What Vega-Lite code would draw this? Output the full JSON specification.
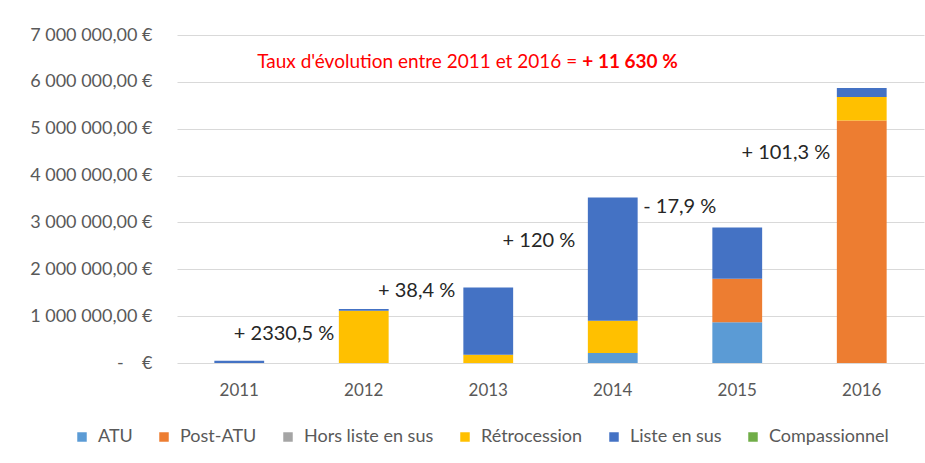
{
  "$schema": "https://vega.github.io/schema/vega-lite/v6.json",
  "width": 747,
  "height": 328,
  "autosize": "none",
  "padding": {"left": 177, "top": 35, "right": 1, "bottom": 100},
  "background": "white",
  "config": {
    "view": {"stroke": null},
    "font": "Lato",
    "axis": {"labelFont": "Lato", "labelColor": "#595959", "labelFontSize": 17}
  },
  "datasets": {
    "bars": [
      {"year": "2011", "cat": "Liste en sus", "k": 5, "value": 48000},
      {"year": "2012", "cat": "Rétrocession", "k": 4, "value": 1116000},
      {"year": "2012", "cat": "Liste en sus", "k": 5, "value": 36000},
      {"year": "2013", "cat": "Rétrocession", "k": 4, "value": 177000},
      {"year": "2013", "cat": "Liste en sus", "k": 5, "value": 1436000},
      {"year": "2014", "cat": "ATU", "k": 1, "value": 213000},
      {"year": "2014", "cat": "Rétrocession", "k": 4, "value": 690000},
      {"year": "2014", "cat": "Liste en sus", "k": 5, "value": 2631000},
      {"year": "2015", "cat": "ATU", "k": 1, "value": 867000},
      {"year": "2015", "cat": "Post-ATU", "k": 2, "value": 932000},
      {"year": "2015", "cat": "Liste en sus", "k": 5, "value": 1095000},
      {"year": "2016", "cat": "Post-ATU", "k": 2, "value": 5177000},
      {"year": "2016", "cat": "Rétrocession", "k": 4, "value": 499000},
      {"year": "2016", "cat": "Liste en sus", "k": 5, "value": 193000}
    ],
    "p1": [{"year": "2012", "value": 625000, "label": "+ 2330,5 %"}],
    "p2": [{"year": "2013", "value": 1528000, "label": "+ 38,4 %"}],
    "p3": [{"year": "2014", "value": 2595000, "label": "+ 120 %"}],
    "p4": [{"year": "2014", "value": 3335000, "label": "- 17,9 %"}],
    "p5": [{"year": "2016", "value": 4488000, "label": "+ 101,3 %"}],
    "titleNormal": [
      {"year": "2014", "value": 6430000, "label": "Taux d'évolution entre 2011 et 2016 ="}
    ],
    "titleBold": [
      {"year": "2014", "value": 6430000, "label": "+ 11 630 %"}
    ]
  },
  "layer": [
    {
      "data": {"name": "bars"},
      "mark": {"type": "bar"},
      "encoding": {
        "x": {
          "field": "year",
          "type": "ordinal",
          "scale": {"paddingInner": 0.6, "paddingOuter": 0.3},
          "axis": {"title": null, "domain": false, "ticks": false, "labelAngle": 0, "labelPadding": 19}
        },
        "y": {
          "field": "value",
          "type": "quantitative",
          "stack": "zero",
          "scale": {"domain": [0, 7000000]},
          "axis": {
            "title": null,
            "domain": false,
            "ticks": false,
            "values": [0, 1000000, 2000000, 3000000, 4000000, 5000000, 6000000, 7000000],
            "labelPadding": 25,
            "labelFontSize": 18,
            "gridColor": "#D9D9D9",
            "gridWidth": 1,
            "labelExpr": "datum.value == 0 ? '-\u00a0\u00a0\u00a0\u00a0€' : format(datum.value / 1000000, '.0f') + ' 000 000,00 €'"
          }
        },
        "color": {
          "field": "cat",
          "type": "nominal",
          "scale": {
            "domain": ["ATU", "Post-ATU", "Hors liste en sus", "Rétrocession", "Liste en sus", "Compassionnel"],
            "range": ["#5B9BD5", "#ED7D31", "#A5A5A5", "#FFC000", "#4472C4", "#70AD47"]
          },
          "legend": {
            "title": null,
            "orient": "none",
            "legendX": -104,
            "legendY": 393,
            "direction": "horizontal",
            "symbolType": "square",
            "symbolSize": 90,
            "symbolStrokeWidth": 0,
            "labelFont": "Lato",
            "labelFontSize": 18,
            "labelColor": "#595959",
            "labelOffset": 7,
            "columnPadding": 22
          }
        },
        "order": {"field": "k", "type": "quantitative"}
      }
    },
    {
      "data": {"name": "p1"},
      "mark": {"type": "text", "align": "right", "baseline": "middle", "fontSize": 20, "color": "#262626", "font": "Lato"},
      "encoding": {
        "x": {"field": "year", "type": "ordinal", "bandPosition": -0.092},
        "y": {"field": "value", "type": "quantitative"},
        "text": {"field": "label"}
      }
    },
    {
      "data": {"name": "p2"},
      "mark": {"type": "text", "align": "right", "baseline": "middle", "fontSize": 20, "color": "#262626", "font": "Lato"},
      "encoding": {
        "x": {"field": "year", "type": "ordinal", "bandPosition": -0.163},
        "y": {"field": "value", "type": "quantitative"},
        "text": {"field": "label"}
      }
    },
    {
      "data": {"name": "p3"},
      "mark": {"type": "text", "align": "right", "baseline": "middle", "fontSize": 20, "color": "#262626", "font": "Lato"},
      "encoding": {
        "x": {"field": "year", "type": "ordinal", "bandPosition": -0.253},
        "y": {"field": "value", "type": "quantitative"},
        "text": {"field": "label"}
      }
    },
    {
      "data": {"name": "p4"},
      "mark": {"type": "text", "align": "left", "baseline": "middle", "fontSize": 20, "color": "#262626", "font": "Lato"},
      "encoding": {
        "x": {"field": "year", "type": "ordinal", "bandPosition": 1.112},
        "y": {"field": "value", "type": "quantitative"},
        "text": {"field": "label"}
      }
    },
    {
      "data": {"name": "p5"},
      "mark": {"type": "text", "align": "right", "baseline": "middle", "fontSize": 20, "color": "#262626", "font": "Lato"},
      "encoding": {
        "x": {"field": "year", "type": "ordinal", "bandPosition": -0.133},
        "y": {"field": "value", "type": "quantitative"},
        "text": {"field": "label"}
      }
    },
    {
      "data": {"name": "titleNormal"},
      "mark": {"type": "text", "align": "right", "baseline": "middle", "fontSize": 19, "color": "#FF0000", "font": "Lato"},
      "encoding": {
        "x": {"field": "year", "type": "ordinal", "bandPosition": -0.213},
        "y": {"field": "value", "type": "quantitative"},
        "text": {"field": "label"}
      }
    },
    {
      "data": {"name": "titleBold"},
      "mark": {"type": "text", "align": "left", "baseline": "middle", "fontSize": 19, "fontWeight": "bold", "color": "#FF0000", "font": "Lato", "dx": 5},
      "encoding": {
        "x": {"field": "year", "type": "ordinal", "bandPosition": -0.213},
        "y": {"field": "value", "type": "quantitative"},
        "text": {"field": "label"}
      }
    }
  ]
}
